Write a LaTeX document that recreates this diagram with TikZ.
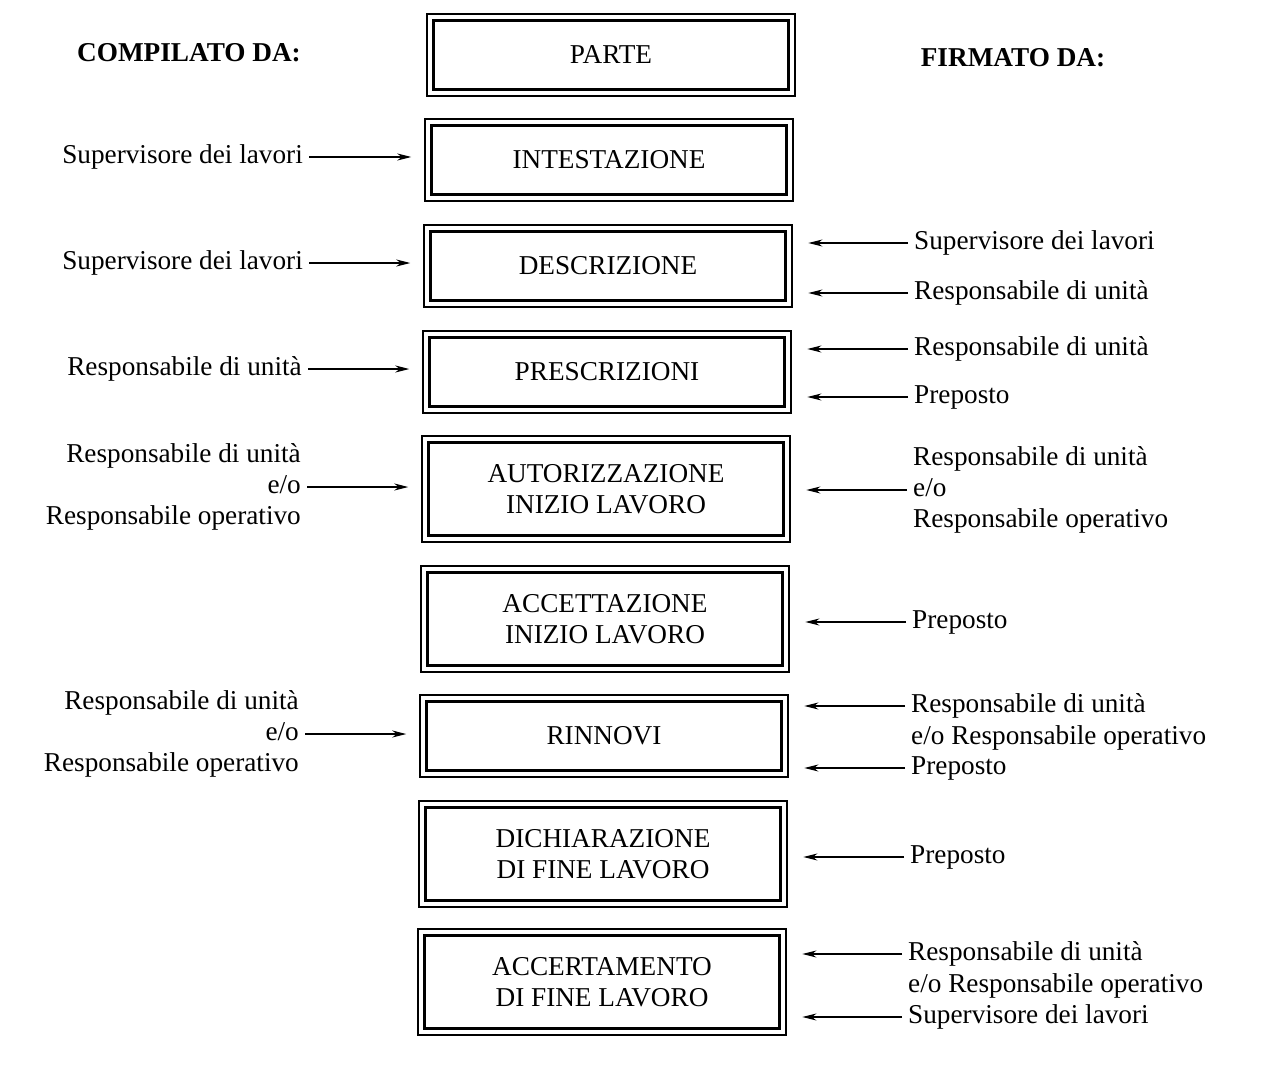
\documentclass[tikz,border=0pt]{standalone}
\usepackage{fontspec}
\setmainfont{Liberation Serif}
\usepackage{tikz}
\usetikzlibrary{arrows.meta}

\tikzset{
  blocco/.style={draw,line width=0.7pt,minimum width=7.36cm,minimum height=1.64cm,align=center},
  blocco2/.style={blocco,minimum height=2.12cm},
  chi/.style={align=left,anchor=west},
  chisx/.style={align=right,anchor=east},
  freccia/.style={->,line width=0.6pt}
}

\begin{document}
\begin{tikzpicture}[x=0.02cm,y=-0.02cm,>={Stealth[length=8pt,width=4pt]},
  font=\fontsize{15.5}{17.8}\selectfont]
\useasboundingbox (0,0) rectangle (1270,1081);
% intestazioni
\node[font=\fontsize{15.5}{17.8}\selectfont\bfseries] (hsx) at (189,53) {COMPILATO DA:};
\node[font=\fontsize{15.5}{17.8}\selectfont\bfseries] (hdx) at (1013,58) {FIRMATO DA:};
% blocchi
\node[blocco] (b1) at (611,55) {PARTE};
\node[blocco] (b2) at (609,160) {INTESTAZIONE};
\node[blocco] (b3) at (608,266) {DESCRIZIONE};
\node[blocco] (b4) at (607,372) {PRESCRIZIONI};
\node[blocco2] (b5) at (606,489) {AUTORIZZAZIONE\\INIZIO LAVORO};
\node[blocco2] (b6) at (605,619) {ACCETTAZIONE\\INIZIO LAVORO};
\node[blocco] (b7) at (604,736) {RINNOVI};
\node[blocco2] (b8) at (603,854) {DICHIARAZIONE\\DI FINE LAVORO};
\node[blocco2] (b9) at (602,982) {ACCERTAMENTO\\DI FINE LAVORO};
\foreach \b in {b1,b2,b3,b4,b5,b6,b7,b8,b9}
  \draw[line width=1.5pt] ([shift={(4pt,-4pt)}]\b.north west) rectangle ([shift={(-4pt,4pt)}]\b.south east);
% compilato da
\node[chisx] (s2) at (309,157) {Supervisore dei lavori};
\node[chisx] (s3) at (309,263) {Supervisore dei lavori};
\node[chisx] (s4) at (308,369) {Responsabile di unità};
\node[chisx] (s5) at (307,487) {Responsabile di unità\\e/o\\Responsabile operativo};
\node[chisx] (s7) at (305,734) {Responsabile di unità\\e/o\\Responsabile operativo};
\foreach \s/\b in {s2/b2,s3/b3,s4/b4,s5/b5,s7/b7}
  \draw[freccia,shorten >=7.5pt] (\s.east) -- (\s.east -| \b.west);
% firmato da
\node[chi] (d3a) at (908,243) {Supervisore dei lavori};
\node[chi] (d3b) at (908,293) {Responsabile di unità};
\node[chi] (d4a) at (908,349) {Responsabile di unità};
\node[chi] (d4b) at (908,397) {Preposto};
\node[chi] (d5) at (907,490) {Responsabile di unità\\e/o\\Responsabile operativo};
\node[chi] (d6) at (906,622) {Preposto};
\node[chi] (d7a) at (905,706) {Responsabile di unità};
\node[chi] (d7b) at (905,738) {e/o Responsabile operativo};
\node[chi] (d7c) at (905,768) {Preposto};
\node[chi] (d8) at (904,857) {Preposto};
\node[chi] (d9a) at (902,954) {Responsabile di unità};
\node[chi] (d9b) at (902,986) {e/o Responsabile operativo};
\node[chi] (d9c) at (902,1017) {Supervisore dei lavori};
\foreach \d/\b in {d3a/b3,d3b/b3,d4a/b4,d4b/b4,d5/b5,d6/b6,d7a/b7,d7c/b7,d8/b8,d9a/b9,d9c/b9}
  \draw[freccia,shorten >=9pt] (\d.west) -- (\d.west -| \b.east);
\end{tikzpicture}
\end{document}
